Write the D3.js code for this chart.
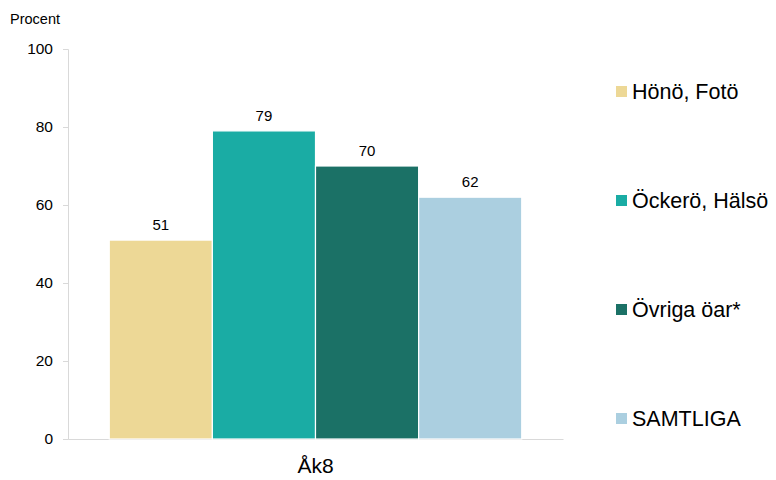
<!DOCTYPE html>
<html><head><meta charset="utf-8">
<script src="https://cdn.jsdelivr.net/npm/d3@7"></script>
<style>body{margin:0;background:#fff}svg{display:block}text{font-family:"Liberation Sans",Arial,sans-serif;fill:#000}</style>
</head><body><svg id="c" width="776" height="480"></svg>
<script>
const categories = ["Åk8"];
const seriesNames = ["Hönö, Fotö", "Öckerö, Hälsö", "Övriga öar*", "SAMTLIGA"];
const seriesValues = [[51], [79], [70], [62]];
const colors = ["#EDD896", "#1AACA4", "#1B7166", "#ABCFE0"];
const yTicks = [0, 20, 40, 60, 80, 100];

const svg = d3.select("#c");
const m = {l: 68, r: 563, t: 49, b: 439};
const x0 = d3.scaleBand().domain(categories).range([m.l, m.r]).paddingInner(0).paddingOuter(0.1);
const x1 = d3.scaleBand().domain(seriesNames).range([0, x0.bandwidth()]);
const y = d3.scaleLinear().domain([0, 100]).range([m.b, m.t]);

// axes
const yAx = svg.append("g").attr("transform", `translate(${m.l},0)`)
  .call(d3.axisLeft(y).tickValues(yTicks).tickSize(5).tickPadding(10));
yAx.select(".domain").attr("stroke", "#d9d9d9");
yAx.selectAll(".tick line").attr("stroke", "#d9d9d9");
yAx.selectAll("text").style("font-size", "15.5px").attr("fill", "#000");

const xAx = svg.append("g").attr("transform", `translate(0,${m.b})`)
  .call(d3.axisBottom(x0).tickSize(0).tickPadding(19));
xAx.select(".domain").attr("stroke", "#d9d9d9");
xAx.selectAll("text").style("font-size", "21px").attr("fill", "#000");

svg.append("text").attr("x", 10).attr("y", 24).style("font-size", "14.5px").text("Procent");

// bars
categories.forEach((c, ci) => {
  const g = svg.append("g").attr("transform", `translate(${x0(c)},0)`);
  seriesNames.forEach((s, si) => {
    const v = seriesValues[si][ci];
    g.append("rect").attr("x", x1(s)).attr("y", y(v))
      .attr("width", x1.bandwidth()).attr("height", y(0) - y(v))
      .attr("fill", colors[si]).attr("stroke", "#fff").attr("stroke-width", 1.2);
    g.append("text").attr("x", x1(s) + x1.bandwidth() / 2).attr("y", y(v) - 10)
      .attr("text-anchor", "middle").style("font-size", "15px").text(v);
  });
});

// legend
const ly = d3.scalePoint().domain(seriesNames).range([91, 418]);
seriesNames.forEach((s, si) => {
  svg.append("rect").attr("x", 616).attr("y", ly(s) - 5).attr("width", 11).attr("height", 11).attr("fill", colors[si]);
  svg.append("text").attr("x", 632).attr("y", ly(s) + 8).style("font-size", "21.5px").text(s);
});
</script></body></html>
